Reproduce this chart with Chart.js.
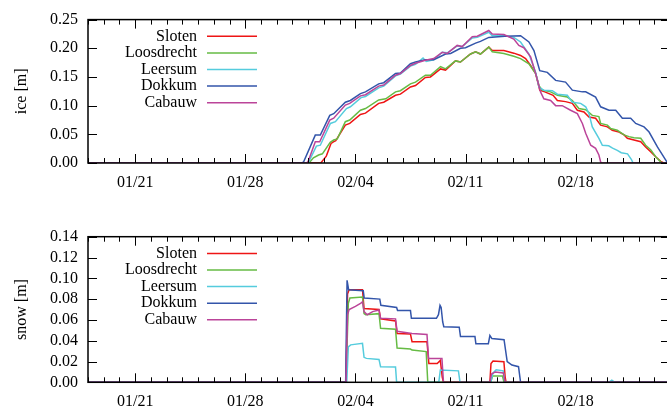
<!DOCTYPE html>
<html><head><meta charset="utf-8">
<script src="https://cdn.jsdelivr.net/npm/chart.js@4/dist/chart.umd.min.js"></script>
<style>
html,body{margin:0;padding:0;background:#fff;overflow:hidden;width:667px;height:407px;}
#wrap{position:relative;width:670px;height:407px;}
canvas{position:absolute;left:0;}
#c1{top:0;width:670px;height:200px;}
#c2{top:200px;width:670px;height:207px;}
</style></head><body>
<div id="wrap"><canvas id="c1" width="670" height="200"></canvas><canvas id="c2" width="670" height="207"></canvas></div>
<script>
// ---- data (x = days after 01/21) ----
const seriesNames = ['Sloten','Loosdrecht','Leersum','Dokkum','Cabauw'];
const seriesColors = ['#ee1515','#66bb44','#55ccdd','#3355aa','#bb4499'];
const dayTicks = [0,7,14,21,28];
const iceTicks = [0,0.05,0.10,0.15,0.20,0.25];
const snowTicks = [0,0.02,0.04,0.06,0.08,0.10,0.12,0.14];

const iceSloten = [[-3,0],[11.8,0],[12.15,0.012],[12.45,0.034],[12.6,0.037],[12.75,0.039],[13.36,0.066],[13.64,0.069],[14.32,0.0845],[14.64,0.087],[15.48,0.104],[15.8,0.106],[16.55,0.118],[16.86,0.120],[17.5,0.1325],[17.82,0.135],[18.45,0.149],[18.77,0.150],[19.41,0.164],[19.73,0.162],[20.36,0.178],[20.68,0.176],[21.32,0.190],[21.64,0.194],[21.95,0.190],[22.48,0.202],[22.7,0.196],[23.44,0.196],[24.07,0.1915],[24.5,0.1875],[24.82,0.182],[25.14,0.170],[25.46,0.156],[25.72,0.127],[26.04,0.124],[26.57,0.118],[26.84,0.109],[27.36,0.107],[27.79,0.104],[28.11,0.092],[28.53,0.089],[28.85,0.080],[29.27,0.078],[29.59,0.066],[30.02,0.063],[30.33,0.057],[30.76,0.054],[31.08,0.049],[31.29,0.043],[31.71,0.040],[32.14,0.037],[32.45,0.028],[32.77,0.0196],[33.09,0.011],[33.41,0.003],[33.6,0],[34,0]];
const iceLoosdrecht = [[-3,0],[11.05,0],[11.33,0.009],[11.66,0.014],[11.9,0.016],[12.4,0.036],[12.62,0.040],[12.85,0.042],[13.36,0.072],[13.64,0.075],[14.32,0.092],[14.64,0.095],[15.48,0.110],[15.93,0.112],[16.55,0.124],[16.86,0.126],[17.5,0.138],[17.82,0.141],[18.45,0.153],[18.77,0.153],[19.41,0.168],[19.73,0.164],[20.36,0.178],[20.68,0.176],[21.32,0.190],[21.64,0.194],[21.95,0.190],[22.48,0.202],[22.7,0.194],[23.44,0.191],[24.07,0.186],[24.5,0.182],[25.03,0.173],[25.46,0.156],[25.67,0.135],[25.88,0.127],[26.41,0.124],[26.84,0.118],[27.47,0.115],[27.79,0.109],[28.21,0.095],[28.64,0.093],[29.06,0.083],[29.48,0.081],[29.59,0.069],[30.02,0.066],[30.23,0.060],[30.65,0.057],[31.08,0.049],[31.39,0.046],[31.71,0.044],[32.14,0.043],[32.45,0.031],[32.77,0.023],[33.09,0.011],[33.41,0.002],[33.5,0],[34,0]];
const iceLeersum = [[-3,0],[11.0,0],[11.52,0.0295],[11.77,0.031],[12.41,0.069],[12.73,0.072],[13.43,0.095],[13.68,0.098],[14.36,0.114],[14.64,0.116],[15.48,0.131],[15.8,0.134],[16.55,0.152],[16.86,0.155],[17.5,0.169],[17.82,0.172],[18.3,0.183],[18.5,0.177],[18.98,0.180],[19.52,0.193],[19.84,0.192],[20.47,0.204],[20.79,0.203],[21.43,0.218],[21.75,0.219],[22.48,0.228],[22.7,0.222],[23.44,0.222],[24.07,0.219],[24.5,0.211],[25.03,0.19],[25.46,0.158],[25.67,0.132],[25.98,0.127],[26.52,0.126],[26.84,0.120],[27.47,0.118],[27.79,0.106],[28.32,0.104],[28.64,0.098],[28.85,0.086],[29.06,0.063],[29.48,0.043],[29.7,0.031],[30.1,0.030],[30.35,0.026],[30.65,0.022],[30.9,0.018],[31.3,0.016],[31.55,0.006],[31.65,0],[34,0]];
const iceDokkum = [[-3,0],[10.6,0],[10.71,0.002],[11.45,0.0486],[11.77,0.0486],[12.37,0.083],[12.62,0.086],[13.36,0.106],[13.68,0.109],[14.32,0.121],[14.64,0.124],[15.48,0.138],[15.8,0.140],[16.55,0.156],[16.86,0.157],[17.5,0.173],[17.82,0.176],[18.45,0.180],[18.98,0.180],[19.73,0.190],[20.05,0.191],[20.68,0.200],[21.0,0.201],[21.64,0.209],[21.95,0.212],[22.48,0.219],[23.5,0.221],[24.5,0.222],[25.03,0.211],[25.35,0.196],[25.72,0.161],[26.2,0.158],[26.73,0.144],[27.36,0.141],[27.79,0.127],[28.43,0.124],[28.64,0.124],[29.27,0.115],[29.59,0.098],[30.12,0.092],[30.55,0.092],[30.97,0.078],[31.5,0.078],[31.82,0.069],[32.35,0.063],[32.67,0.054],[33.2,0.028],[33.73,0.005],[33.85,0],[34,0]];
const iceCabauw = [[-3,0],[10.9,0],[11.0,0.003],[11.45,0.037],[11.73,0.037],[12.37,0.0747],[12.62,0.078],[13.36,0.101],[13.64,0.104],[14.32,0.117],[14.64,0.119],[15.48,0.134],[15.8,0.136],[16.55,0.153],[16.86,0.156],[17.5,0.170],[17.82,0.174],[18.45,0.179],[18.98,0.182],[19.52,0.193],[19.84,0.191],[20.47,0.205],[20.79,0.203],[21.43,0.220],[21.75,0.221],[22.48,0.231],[22.7,0.225],[23.44,0.224],[24.07,0.216],[24.39,0.205],[24.71,0.201],[25.14,0.185],[25.46,0.156],[25.77,0.124],[25.98,0.112],[26.41,0.109],[26.73,0.10],[27.15,0.10],[27.68,0.092],[28.11,0.086],[28.43,0.069],[28.64,0.052],[28.96,0.031],[29.27,0.0255],[29.48,0.014],[29.59,0.002],[29.65,0],[34,0]];

const snowSloten = [[-3,0],[13.4,0],[13.5,0.085],[13.6,0.089],[14.45,0.089],[14.55,0.071],[15.5,0.070],[15.6,0.061],[16.55,0.059],[16.65,0.047],[17.5,0.0464],[17.6,0.039],[18.55,0.039],[18.67,0.018],[19.2,0.018],[19.4,0.021],[19.52,0.005],[19.6,0],[22.55,0],[22.62,0.018],[22.75,0.0205],[23.44,0.0198],[23.52,0.005],[23.58,0],[34,0]];
const snowLoosdrecht = [[-3,0],[13.4,0],[13.55,0.076],[13.65,0.081],[14.45,0.082],[14.55,0.066],[14.65,0.065],[15.5,0.066],[15.6,0.052],[16.55,0.051],[16.65,0.033],[17.5,0.032],[17.6,0.031],[18.5,0.0295],[18.6,0],[22.6,0],[22.72,0.006],[23.35,0.006],[23.45,0],[34,0]];
const snowLeersum = [[-3,0],[13.45,0],[13.55,0.034],[13.7,0.036],[14.45,0.0375],[14.55,0.024],[14.7,0.023],[15.5,0.022],[15.6,0.015],[16.55,0.0148],[16.62,0],[19.3,0],[19.4,0.0118],[20.55,0.011],[20.65,0],[22.6,0],[22.75,0.009],[22.95,0.012],[23.4,0.011],[23.5,0],[30.1,0],[30.3,0.002],[30.5,0],[34,0]];
const snowDokkum = [[-3,0],[13.38,0],[13.47,0.098],[13.57,0.089],[14.5,0.088],[14.56,0.081],[15.55,0.080],[15.62,0.074],[16.62,0.072],[16.68,0.069],[17.5,0.069],[17.56,0.0615],[19.15,0.0615],[19.28,0.065],[19.38,0.074],[19.45,0.072],[19.55,0.058],[19.62,0.0535],[20.6,0.053],[20.68,0.044],[21.6,0.044],[21.66,0.037],[22.45,0.037],[22.55,0.045],[22.68,0.042],[23.45,0.041],[23.65,0.020],[23.95,0.0166],[24.37,0.015],[24.5,0],[34,0]];
const snowCabauw = [[-3,0],[13.4,0],[13.5,0.065],[13.6,0.070],[14.0,0.073],[14.35,0.076],[14.45,0.0775],[14.55,0.068],[14.75,0.065],[15.1,0.068],[15.5,0.0696],[15.6,0.0615],[16.55,0.061],[16.65,0.049],[17.6,0.047],[18.55,0.046],[18.65,0.023],[19.5,0.023],[19.6,0],[22.55,0],[22.65,0.008],[22.9,0.010],[23.4,0.009],[23.52,0],[34,0]];

const iceSeries = [iceSloten, iceLoosdrecht, iceLeersum, iceDokkum, iceCabauw];
const snowSeries = [snowSloten, snowLoosdrecht, snowLeersum, snowDokkum, snowCabauw];

// ---- rendering ----
const FONT = '"Liberation Serif", "Times New Roman", serif';
Chart.defaults.color = '#000';
Chart.defaults.font.family = FONT;
Chart.defaults.font.size = 16;

function fmtDay(v){
  const dt = new Date(2012, 0, 21 + v);
  const mm = String(dt.getMonth()+1).padStart(2,'0');
  const dd = String(dt.getDate()).padStart(2,'0');
  return mm + '/' + dd;
}

const framePlugin = {
  id: 'frame',
  afterDatasetsDraw(chart){
    const {ctx, chartArea: a, scales: {x, y}} = chart;
    ctx.save();
    ctx.strokeStyle = '#000';
    ctx.lineWidth = 1;
    ctx.beginPath();
    for (let d = Math.ceil(x.min); d <= x.max; d++) {
      const px = Math.round(x.getPixelForValue(d)) + 0.5;
      const len = dayTicks.includes(d) ? 9 : 5;
      ctx.moveTo(px, a.bottom); ctx.lineTo(px, a.bottom - len);
      ctx.moveTo(px, a.top); ctx.lineTo(px, a.top + len);
    }
    for (const t of y.ticks) {
      const py = Math.round(y.getPixelForValue(t.value)) + 0.5;
      ctx.moveTo(a.left, py); ctx.lineTo(a.left + 9, py);
      ctx.moveTo(a.right, py); ctx.lineTo(a.right - 9, py);
    }
    ctx.stroke();
    ctx.lineWidth = 1.5;
    ctx.strokeRect(a.left, a.top, a.right - a.left, a.bottom - a.top);
    // legend (text left of sample line)
    ctx.font = '16px ' + FONT;
    ctx.textAlign = 'right';
    ctx.textBaseline = 'middle';
    chart.data.datasets.forEach((ds, i) => {
      const yy = a.top + 16.7 + 16.6 * i;
      ctx.fillStyle = '#000';
      ctx.fillText(ds.label, a.left + 109, yy);
      ctx.strokeStyle = ds.borderColor;
      ctx.lineWidth = 1.5;
      ctx.beginPath();
      ctx.moveTo(a.left + 119, yy); ctx.lineTo(a.left + 169, yy);
      ctx.stroke();
    });
    ctx.restore();
  }
};

function makeChart(id, series, yMax, yTickList, title, topPad, xAxisH){
  return new Chart(document.getElementById(id), {
    type: 'line',
    data: {
      datasets: series.map((s, i) => ({
        label: seriesNames[i],
        data: s.map(p => ({x: p[0], y: p[1]})),
        borderColor: seriesColors[i],
        borderWidth: 1.5,
        pointRadius: 0,
        tension: 0,
        fill: false,
        order: series.length - i
      }))
    },
    options: {
      responsive: false,
      animation: false,
      events: [],
      layout: {padding: {top: topPad, right: 0, left: 0, bottom: 0}},
      plugins: {legend: {display: false}, tooltip: {enabled: false}},
      scales: {
        x: {
          type: 'linear', min: -3, max: 34,
          grid: {display: false, drawTicks: false},
          border: {display: false},
          afterBuildTicks: sc => { sc.ticks = dayTicks.map(v => ({value: v})); },
          afterFit: sc => { sc.height = xAxisH; },
          ticks: {padding: 10, maxRotation: 0, autoSkip: false, callback: v => fmtDay(v)}
        },
        y: {
          type: 'linear', min: 0, max: yMax,
          grid: {display: false, drawTicks: false},
          border: {display: false},
          afterBuildTicks: sc => { sc.ticks = yTickList.map(v => ({value: v})); },
          afterFit: sc => { sc.width = 88; },
          ticks: {padding: 10, autoSkip: false, callback: v => Number(v).toFixed(2)},
          title: {display: true, text: title, padding: {top: 12, bottom: 0}, font: {size: 16, family: FONT}}
        }
      }
    },
    plugins: [framePlugin]
  });
}

makeChart('c1', iceSeries, 0.25, iceTicks, 'ice [m]', 19, 37);
makeChart('c2', snowSeries, 0.14, snowTicks, 'snow [m]', 36.7, 24.7);
</script>
</body></html>
